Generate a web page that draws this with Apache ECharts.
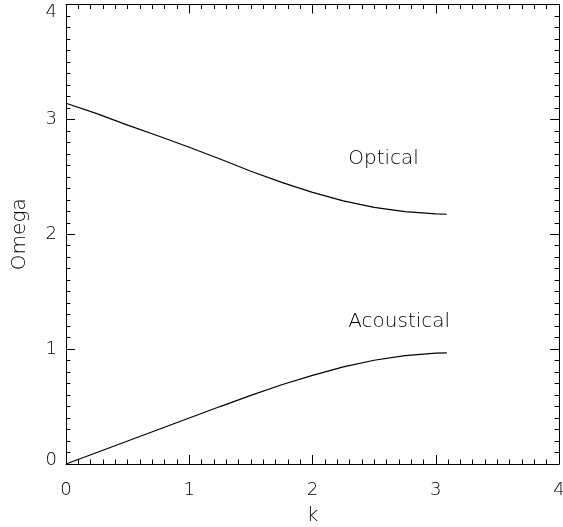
<!DOCTYPE html>
<html>
<head>
<meta charset="utf-8">
<script src="https://cdn.jsdelivr.net/npm/echarts@6/dist/echarts.min.js"></script>
<style>
html,body{margin:0;padding:0;background:#fff;overflow:hidden;width:100%;height:100%;}
#c{position:absolute;left:0;top:0;width:563px;height:527px;}
</style>
</head>
<body>
<div id="c"></div>
<script>
const kValues = [0, 0.25, 0.5, 0.75, 1.0, 1.25, 1.5, 1.75, 2.0, 2.25, 2.5, 2.75, 3.0, 3.09];
const opticalValues = [3.14, 3.05, 2.95, 2.855, 2.757, 2.655, 2.548, 2.452, 2.364, 2.29, 2.234, 2.197, 2.178, 2.174];
const acousticalValues = [0, 0.10, 0.20, 0.30, 0.40, 0.50, 0.597, 0.69, 0.772, 0.845, 0.903, 0.944, 0.965, 0.968];
const xTicks = [0, 1, 2, 3, 4];
const yTicks = [0, 1, 2, 3, 4];
const labelTexts = [
  {text: 'Optical', k: 2.29, w: 2.66},
  {text: 'Acoustical', k: 2.29, w: 1.235}
];

const FONT = 'DejaVu Sans';
const chart = echarts.init(document.getElementById('c'), null, {renderer: 'canvas', width: 563, height: 527});
const lineC = '#000';
const axisCommon = {
  min: 0, max: 4, interval: 1,
  axisLine: {show: true, onZero: false, lineStyle: {color: lineC, width: 1}},
  axisTick: {show: true, inside: true, length: 9, lineStyle: {color: lineC, width: 1}},
  minorTick: {show: true, splitNumber: 10, length: 4.5, lineStyle: {color: lineC, width: 1}},
  splitLine: {show: false},
  minorSplitLine: {show: false}
};
const txt = {color: '#000', fontFamily: FONT, fontSize: 18, fontWeight: 200};
const txtBig = Object.assign({}, txt, {fontSize: 20});

chart.setOption({
  animation: false,
  backgroundColor: '#fff',
  grid: {left: 66, right: 4, top: 4.5, bottom: 63, containLabel: false, outerBoundsMode: 'none'},
  xAxis: [
    Object.assign({}, axisCommon, {
      type: 'value', position: 'bottom',
      name: 'k', nameLocation: 'middle', nameGap: 42,
      nameTextStyle: txtBig,
      axisLabel: Object.assign({margin: 17, formatter: v => xTicks.includes(v) ? String(v) : ''}, txt)
    }),
    Object.assign({}, axisCommon, {
      type: 'value', position: 'top', axisLabel: {show: false}
    })
  ],
  yAxis: [
    Object.assign({}, axisCommon, {
      type: 'value', position: 'left',
      name: 'Omega', nameLocation: 'middle', nameGap: 36, nameRotate: 90,
      nameTextStyle: txtBig,
      axisLabel: Object.assign({
        margin: 9,
        formatter: v => {
          if (!yTicks.includes(v)) return '';
          if (v === 0) return '{lo|' + v + '}';
          if (v === 4) return '{hi|' + v + '}';
          return String(v);
        },
        rich: {
          lo: Object.assign({}, txt, {padding: [0, 0, 8, 0]}),
          hi: Object.assign({}, txt, {padding: [16, 0, 0, 0]})
        }
      }, txt)
    }),
    Object.assign({}, axisCommon, {
      type: 'value', position: 'right', axisLabel: {show: false}
    })
  ],
  series: [
    {
      type: 'line', name: 'Optical', smooth: false, symbol: 'none',
      lineStyle: {color: lineC, width: 1.2},
      data: kValues.map((k, i) => [k, opticalValues[i]]),
      markPoint: {
        symbol: 'circle', symbolSize: 0,
        label: Object.assign({show: true, position: 'inside', align: 'left', verticalAlign: 'middle', formatter: p => p.name}, txtBig),
        data: labelTexts.map(l => ({name: l.text, coord: [l.k, l.w]}))
      }
    },
    {
      type: 'line', name: 'Acoustical', smooth: false, symbol: 'none',
      lineStyle: {color: lineC, width: 1.2},
      data: kValues.map((k, i) => [k, acousticalValues[i]])
    }
  ]
});
</script>
</body>
</html>
